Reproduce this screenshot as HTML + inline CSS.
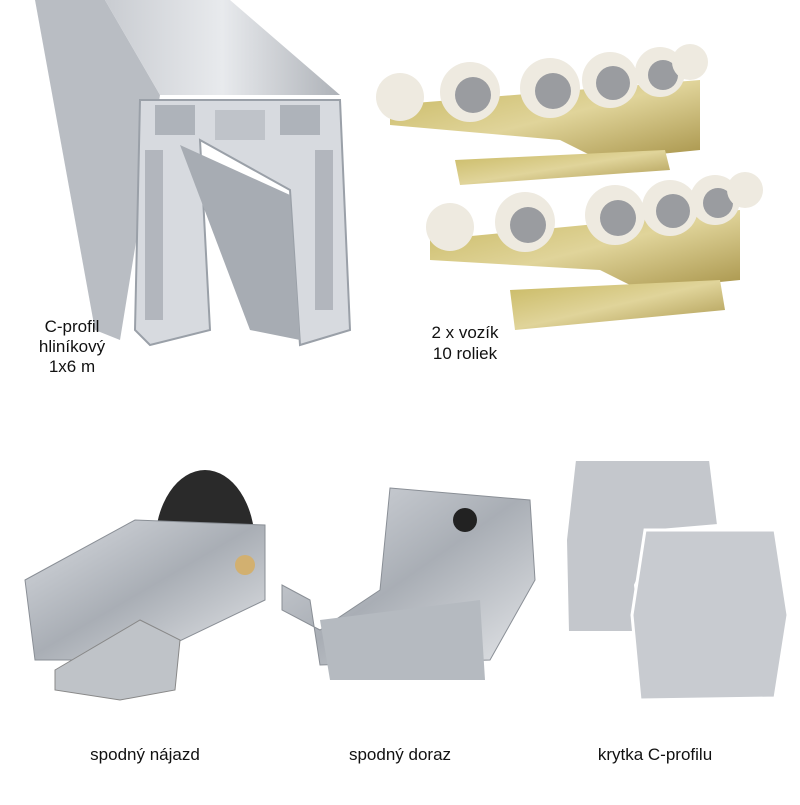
<!DOCTYPE html>
<html><head><meta charset="utf-8"><style>
body{margin:0;background:#fff;}
.t{font-family:"Liberation Sans",sans-serif;font-size:17px;fill:#111;text-anchor:middle;}
</style></head><body>
<svg width="800" height="800" viewBox="0 0 800 800" xmlns="http://www.w3.org/2000/svg">
<defs>
<linearGradient id="al" x1="0" y1="0" x2="1" y2="0"><stop offset="0" stop-color="#c9ccd1"/><stop offset=".5" stop-color="#e8eaed"/><stop offset="1" stop-color="#aeb2b8"/></linearGradient>
<linearGradient id="gold" x1="0" y1="0" x2="1" y2="1"><stop offset="0" stop-color="#c8b860"/><stop offset=".5" stop-color="#e0d49a"/><stop offset="1" stop-color="#a8944a"/></linearGradient>
<linearGradient id="st" x1="0" y1="0" x2="1" y2="1"><stop offset="0" stop-color="#d8dbe0"/><stop offset=".5" stop-color="#a9aeb5"/><stop offset="1" stop-color="#e3e5e8"/></linearGradient>
</defs>
<polygon points="35,0 105,0 160,95 120,340 95,330" fill="#b9bdc3"/>
<polygon points="105,0 230,0 340,95 160,95" fill="url(#al)"/>
<path d="M140,100 L340,100 L350,330 L300,345 L290,190 L200,140 L210,330 L150,345 L135,330 Z" fill="#d7dadf" stroke="#9aa0a8" stroke-width="2"/>
<polygon points="180,145 290,195 300,340 250,330" fill="#a7acb3"/>
<rect x="155" y="105" width="40" height="30" fill="#aeb3ba"/>
<rect x="280" y="105" width="40" height="30" fill="#aeb3ba"/>
<rect x="215" y="110" width="50" height="30" fill="#bfc3c9"/>
<rect x="315" y="150" width="18" height="160" fill="#b2b6bd"/>
<rect x="145" y="150" width="18" height="170" fill="#b2b6bd"/>
<g>
<polygon points="390,105 700,80 700,150 600,160 560,140 390,125" fill="url(#gold)"/>
<polygon points="455,160 665,150 670,170 460,185" fill="url(#gold)"/>
<circle cx="400" cy="97" r="24" fill="#eeeae0"/>
<circle cx="470" cy="92" r="30" fill="#eeeae0"/><circle cx="473" cy="95" r="18" fill="#9a9ca0"/>
<circle cx="550" cy="88" r="30" fill="#eeeae0"/><circle cx="553" cy="91" r="18" fill="#9a9ca0"/>
<circle cx="610" cy="80" r="28" fill="#eeeae0"/><circle cx="613" cy="83" r="17" fill="#9a9ca0"/>
<circle cx="660" cy="72" r="25" fill="#eeeae0"/><circle cx="663" cy="75" r="15" fill="#9a9ca0"/>
<circle cx="690" cy="62" r="18" fill="#eeeae0"/>
</g>
<g>
<polygon points="430,240 740,210 740,280 640,290 600,270 430,260" fill="url(#gold)"/>
<polygon points="510,290 720,280 725,310 515,330" fill="url(#gold)"/>
<circle cx="450" cy="227" r="24" fill="#eeeae0"/>
<circle cx="525" cy="222" r="30" fill="#eeeae0"/><circle cx="528" cy="225" r="18" fill="#9a9ca0"/>
<circle cx="615" cy="215" r="30" fill="#eeeae0"/><circle cx="618" cy="218" r="18" fill="#9a9ca0"/>
<circle cx="670" cy="208" r="28" fill="#eeeae0"/><circle cx="673" cy="211" r="17" fill="#9a9ca0"/>
<circle cx="715" cy="200" r="25" fill="#eeeae0"/><circle cx="718" cy="203" r="15" fill="#9a9ca0"/>
<circle cx="745" cy="190" r="18" fill="#eeeae0"/>
</g>
<text class="t" x="72" y="332">C-profil</text>
<text class="t" x="72" y="352">hliníkový</text>
<text class="t" x="72" y="372">1x6 m</text>
<text class="t" x="465" y="338">2 x vozík</text>
<text class="t" x="465" y="359">10 roliek</text>
<ellipse cx="205" cy="545" rx="50" ry="75" fill="#2a2a2a"/>
<polygon points="25,580 135,520 265,525 265,600 140,660 35,660" fill="url(#st)" stroke="#8a8f96"/>
<polygon points="55,670 140,620 180,640 175,690 120,700 55,690" fill="#bfc3c8" stroke="#888"/>
<circle cx="245" cy="565" r="10" fill="#d2b070"/>
<polygon points="390,488 530,500 535,580 490,660 320,665 310,600 282,585 282,610 320,630 380,590" fill="url(#st)" stroke="#8a8f96"/>
<polygon points="320,620 480,600 485,680 330,680" fill="#b5bac0"/>
<circle cx="465" cy="520" r="12" fill="#222"/>
<polygon points="575,460 710,460 718,525 660,530 635,585 640,632 568,632 566,540" fill="#c4c7cc" stroke="#fff" stroke-width="2"/>
<polygon points="645,530 775,530 788,615 775,698 640,700 632,615" fill="#c8cbd0" stroke="#fff" stroke-width="3"/>
<text class="t" x="145" y="760">spodný nájazd</text>
<text class="t" x="400" y="760">spodný doraz</text>
<text class="t" x="655" y="760">krytka C-profilu</text>
</svg>
</body></html>
